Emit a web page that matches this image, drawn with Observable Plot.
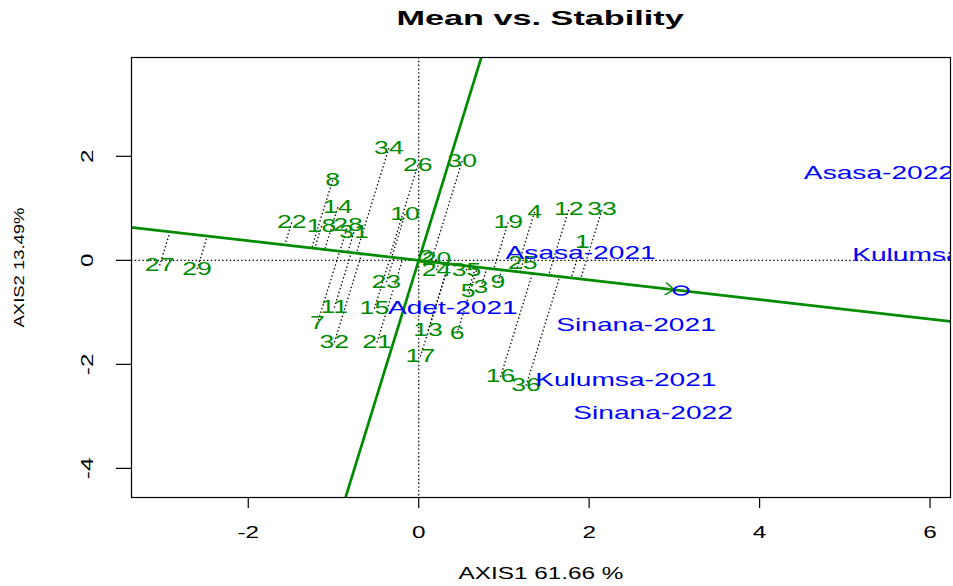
<!DOCTYPE html>
<html>
<head>
<meta charset="utf-8">
<script src="https://cdn.jsdelivr.net/npm/d3@7"></script>
<script src="https://cdn.jsdelivr.net/npm/@observablehq/plot@0.6"></script>
<style>
  html, body { margin: 0; padding: 0; background: #fff; }
  #title { width: 953px; height: 35px; box-sizing: border-box; padding-left: 128px; text-align: center;
    font-family: "Liberation Sans", Arial, sans-serif; font-weight: bold; font-size: 21px; line-height: 35px; }
  #title span { display: inline-block; transform: scaleX(1.63); transform-origin: center; }
</style>
</head>
<body>
<div id="title"><span>Mean vs. Stability</span></div>
<div id="chart"></div>
<script>
// Genotypes
const genotypes = ["1","2","3","4","5","6","7","8","9","10","11","12","13","14","15","16","17","18",
  "19","20","21","22","23","24","25","26","27","28","29","30","31","32","33","34","35","36"];
const genoX = [1.92,0.09,0.73,1.36,0.58,0.45,-1.19,-1.01,0.93,-0.16,-0.99,1.76,0.11,-0.95,-0.52,0.96,0.02,-1.14,
  1.05,0.21,-0.49,-1.49,-0.38,0.21,1.22,-0.01,-3.04,-0.83,-2.60,0.51,-0.76,-0.99,2.15,-0.35,0.56,1.26];
const genoY = [0.35,0.06,-0.52,0.93,-0.60,-1.41,-1.22,1.54,-0.42,0.89,-0.91,0.97,-1.35,1.02,-0.93,-2.24,-1.85,0.66,
  0.73,0.02,-1.58,0.73,-0.42,-0.19,-0.06,1.83,-0.10,0.68,-0.17,1.91,0.54,-1.58,0.97,2.16,-0.19,-2.41];
// Environments
const environments = ["Asasa-2021","Adet-2021","Sinana-2021","Kulumsa-2021","Sinana-2022","Asasa-2022","Kulumsa-2022"];
const envX = [1.90,0.40,2.55,2.43,2.75,5.40,6.15];
const envY = [0.13,-0.91,-1.25,-2.30,-2.93,1.68,0.10];
// Average environment
const meanX = [3.08];
const meanY = [-0.58];
// Axis ticks
const xTicks = [-2,0,2,4,6];
const yTicks = [2,0,-2,-4];
const xTitle = "AXIS1 61.66 %";
const yTitle = "AXIS2 13.49%";

const green = "#008B00", blue = "#0000FF";
const mx = meanX[0], my = meanY[0];
const norm = Math.hypot(mx, my);
const ux = mx / norm, uy = my / norm;

const geno = genotypes.map((g, i) => {
  const d = genoX[i] * ux + genoY[i] * uy;
  return {g, x: genoX[i], y: genoY[i], px: d * ux, py: d * uy};
});
const env = environments.map((e, i) => ({e, x: envX[i], y: envY[i]}));
const avg = meanX.map((x, i) => ({x, y: meanY[i]}));
const abscissa = [-20, 20].map(t => ({x: t * ux, y: t * uy}));
const ordinate = [-20, 20].map(t => ({x: -t * uy, y: t * ux}));

const dotted = {stroke: "black", strokeWidth: 1.3, strokeDasharray: "1.4,2.4"};

const svg = Plot.plot({
  width: 953, height: 551,
  marginLeft: 131, marginRight: 3, marginTop: 22, marginBottom: 89,
  style: {fontFamily: "'Liberation Sans', Arial, sans-serif", background: "white", overflow: "visible"},
  x: {domain: [-3.37, 6.24]},
  y: {domain: [-4.56, 3.9]},
  marks: [
    Plot.ruleY([0], {...dotted}),
    Plot.ruleX([0], {...dotted}),
    Plot.link(geno, {x1: "x", y1: "y", x2: "px", y2: "py", ...dotted}),
    Plot.line(abscissa, {x: "x", y: "y", stroke: green, strokeWidth: 2.7, clip: true}),
    Plot.line(ordinate, {x: "x", y: "y", stroke: green, strokeWidth: 2.7, clip: true}),
    Plot.arrow(avg, {x1: () => 0, y1: () => 0, x2: "x", y2: "y", stroke: green, strokeWidth: 1.4, headLength: 11, headAngle: 70, insetEnd: 7}),
    Plot.dot(avg, {x: "x", y: "y", r: 4.6, stroke: blue, strokeWidth: 1.5}),
    Plot.text(geno, {x: "x", y: "y", text: "g", fill: green, fontSize: 17.5}),
    Plot.text(env, {x: "x", y: "y", text: "e", fill: blue, fontSize: 18.5, clip: true}),
    Plot.frame({stroke: "black", strokeWidth: 1.2}),
    Plot.axisX({ticks: xTicks, tickSize: 11, tickFormat: () => "", label: null, stroke: "black", strokeWidth: 1.2}),
    Plot.axisY({ticks: yTicks, tickSize: 15, tickFormat: () => "", label: null, stroke: "black", strokeWidth: 1.2}),
    Plot.text(xTicks, {x: d => d, text: d => String(d), frameAnchor: "bottom", dy: 35, lineAnchor: "middle", fontSize: 16, fill: "black"}),
    Plot.text(yTicks, {y: d => d, text: d => String(d), frameAnchor: "left", dx: -44, rotate: -90, textAnchor: "middle", lineAnchor: "middle", fontSize: 16, fill: "black"}),
    Plot.text([xTitle], {text: d => d, frameAnchor: "bottom", dy: 76, lineAnchor: "middle", fontSize: 16, fill: "black"}),
    Plot.text([yTitle], {text: d => d, frameAnchor: "left", dx: -112, dy: -10, rotate: -90, textAnchor: "middle", lineAnchor: "middle", fontSize: 15, fill: "black"})
  ]
});
document.getElementById("chart").appendChild(svg);

// The reference device stretched everything horizontally; mimic that.
const F = 1.52;
svg.querySelectorAll("text").forEach(t => {
  const s = t.textContent;
  if (!s) return;
  const w = t.getComputedTextLength();
  let L = w * F;
  if (s === yTitle) L = 120;
  t.setAttribute("textLength", L.toFixed(1));
  t.setAttribute("lengthAdjust", "spacingAndGlyphs");
});
svg.querySelectorAll("circle").forEach(c => {
  const cx = +c.getAttribute("cx"), cy = +c.getAttribute("cy");
  if (isNaN(cx)) return;
  c.setAttribute("transform", `translate(${cx},${cy}) scale(1.6,1) translate(${-cx},${-cy})`);
});
</script>
</body>
</html>
